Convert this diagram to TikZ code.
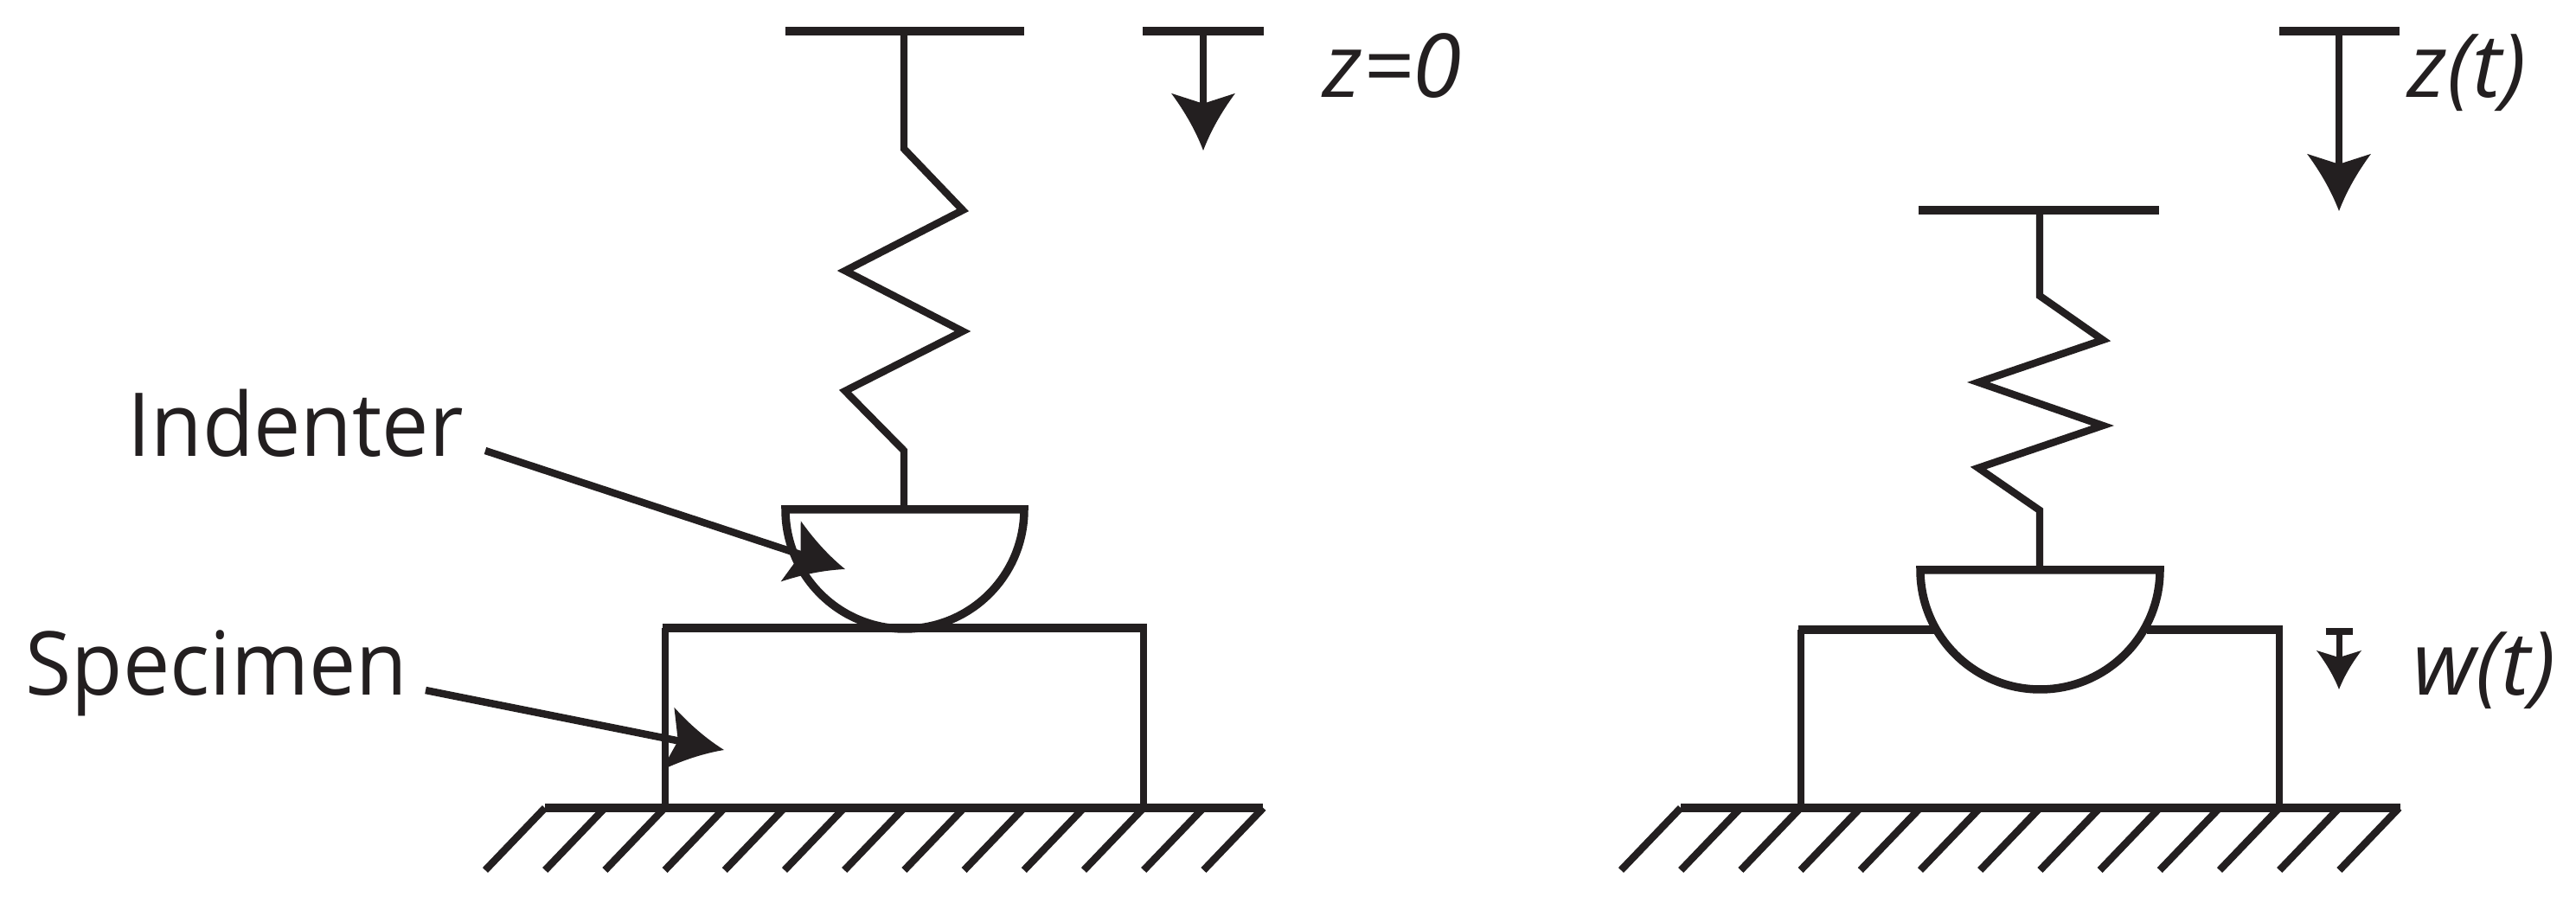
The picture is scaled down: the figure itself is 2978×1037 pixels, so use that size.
\documentclass[tikz,border=0pt]{standalone}
\usepackage{fontspec}
\setmainfont{Open Sans}
\newfontfamily\calloutfont[FakeStretch=0.95]{Open Sans}
\usetikzlibrary{arrows.meta}
\definecolor{ink}{HTML}{231F20}
\pgfdeclarearrow{
  name=Horn,
  parameters={\the\pgfarrowlength,\the\pgfarrowwidth},
  setup code={
    \pgfarrowssettipend{\pgfarrowlength}
    \pgfarrowssetbackend{0pt}
    \pgfarrowssetlineend{0.3\pgfarrowlength}
    \pgfarrowssetvisualbackend{0.18\pgfarrowlength}
    \pgfarrowssavethe\pgfarrowlength
    \pgfarrowssavethe\pgfarrowwidth
  },
  drawing code={
    \pgfpathmoveto{\pgfqpoint{\pgfarrowlength}{0pt}}
    \pgfpathquadraticcurveto{\pgfqpoint{0.5\pgfarrowlength}{0.17\pgfarrowwidth}}{\pgfqpoint{0pt}{0.5\pgfarrowwidth}}
    \pgfpathlineto{\pgfqpoint{0.18\pgfarrowlength}{0pt}}
    \pgfpathlineto{\pgfqpoint{0pt}{-0.5\pgfarrowwidth}}
    \pgfpathquadraticcurveto{\pgfqpoint{0.5\pgfarrowlength}{-0.17\pgfarrowwidth}}{\pgfqpoint{\pgfarrowlength}{0pt}}
    \pgfpathclose
    \pgfusepathqfill
  },
  defaults={length=18.8pt,width=21pt}
}
\tikzset{
  bar/.style={draw=ink,line width=2.9pt},
  thinline/.style={draw=ink,line width=2.4pt,line join=miter},
  bowl/.style={draw=ink,line width=2.7pt},
  pointer/.style={draw=ink,line width=2.4pt,-{Horn[length=18.8pt,width=21pt]}},
  smallpointer/.style={draw=ink,line width=2pt,-{Horn[length=12.8pt,width=14.8pt]}},
  label/.style={text=ink,inner sep=0pt,anchor=base west,font=\fontsize{29}{29}\selectfont\calloutfont},
  mathlabel/.style={text=ink,inner sep=0pt,anchor=base west,font=\fontsize{29}{29}\selectfont\itshape}
}
\begin{document}
\begin{tikzpicture}[x=0.01cm,y=-0.01cm]
\useasboundingbox (0,0) rectangle (2978,1037);
\fill[white] (0,0) rectangle (2978,1037);
% labels
\node[label] (indenter) at (147,528) {Indenter};
\node[label] (specimen) at (29,804) {Specimen};
\node[mathlabel] (zzero) at (1529,113) {z=0};
\node[mathlabel] (zt) at (2783,113) {z(t)};
\node[mathlabel] (wt) at (2789,804) {w(t)};
% left system
\coordinate (Lt) at (1045,36);
\coordinate (Lb) at (1045,589);
\draw[bar] (908,36) -- (1184,36);
\draw[thinline] (Lt) -- (1045,172) -- (1113,243) -- (977,313) -- (1113,383) -- (977,452) -- (1045,521) -- (Lb);
\draw[bowl] (908,589) -- (1184,589) arc[start angle=0,end angle=-180,x radius=138,y radius=-138] -- cycle;
\draw[thinline] (769,934) -- (769,726);
\draw[bar] (765.5,726) -- (1325.5,726);
\draw[thinline] (1322,726) -- (1322,934);
\draw[bar] (630,934) -- (1460,934);
\foreach \i in {0,...,12}{
  \draw[thinline] ({630+69.2*\i},934) -- ({561+69.2*\i},1006);
}
% left travel arrow
\coordinate (Zt) at (1391,36);
\coordinate (Ztip) at (1391,174);
\draw[bar] (1321,36) -- (1461,36);
\draw[pointer] (Zt) -- (Ztip);
% callouts
\coordinate (Itip) at (977,658);
\coordinate (Stip) at (837,867);
\draw[pointer] (561,521) -- (Itip);
\draw[pointer] (492,798) -- (Stip);
% right system
\coordinate (Rt) at (2358,243);
\coordinate (Rb) at (2358,659);
\draw[bar] (2218,243) -- (2496,243);
\draw[thinline] (Rt) -- (2358,342) -- (2431,393) -- (2287,442) -- (2431,492) -- (2287,541) -- (2358,590) -- (Rb);
\draw[bowl] (2220,659) -- (2497,659) arc[start angle=0,end angle=-180,x radius=138.5,y radius=-138] -- cycle;
\draw[thinline] (2082,934) -- (2082,728);
\draw[bar] (2078.5,728) -- (2237,728);
\draw[bar] (2482,728) -- (2638.5,728);
\draw[thinline] (2635,728) -- (2635,934);
\draw[bar] (1943,934) -- (2775,934);
\foreach \i in {0,...,12}{
  \draw[thinline] ({1943+69.2*\i},934) -- ({1874+69.2*\i},1006);
}
% right travel arrows
\coordinate (Ht) at (2704,36);
\coordinate (Htip) at (2704,244);
\draw[bar] (2635,36) -- (2774,36);
\draw[pointer] (Ht) -- (Htip);
\coordinate (Wt) at (2704,730);
\coordinate (Wtip) at (2704,797);
\draw[draw=ink,line width=2pt] (2688.5,730) -- (2720,730);
\draw[smallpointer] (Wt) -- (Wtip);
\end{tikzpicture}
\end{document}
